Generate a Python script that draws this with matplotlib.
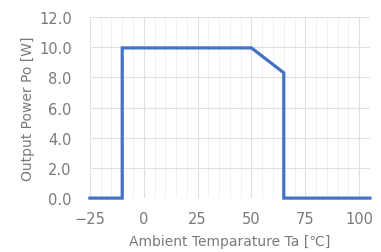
import matplotlib
matplotlib.use("Agg")
import matplotlib.pyplot as plt
from matplotlib.ticker import MultipleLocator

temp = [-25, -10, -10, 50, 65, 65, 105]
power = [0.0, 0.0, 9.95, 9.95, 8.3, 0.0, 0.0]

xticks = [-25, 0, 25, 50, 75, 100]
yticks = [0, 2, 4, 6, 8, 10, 12]

fig = plt.figure(figsize=(3.81, 2.53), dpi=100)
ax = fig.add_axes([0.236, 0.213, 0.735, 0.716])

ax.plot(temp, power, color="#4472C4", linewidth=2.3, solid_joinstyle="miter", zorder=3, clip_on=False)

ax.set_xlim(-25, 105)
ax.set_ylim(0, 12)
ax.set_xticks(xticks)
ax.set_yticks(yticks)
ax.set_yticklabels([f"{v:.1f}" for v in yticks])
ax.xaxis.set_minor_locator(MultipleLocator(5))

ax.grid(which="major", color="#e0e0e0", linewidth=0.8)
ax.grid(which="minor", axis="x", color="#f0f0f0", linewidth=0.7)
ax.set_axisbelow(True)
for s in ax.spines.values():
    s.set_visible(False)
tc = "#7a7a7a"
ax.tick_params(which="both", length=0, colors=tc, labelsize=10.5)
ax.tick_params(axis="x", pad=9)
ax.tick_params(axis="y", pad=13)

ax.set_xlabel("Ambient Temparature Ta [℃]", color=tc, fontsize=10, labelpad=6)
ax.set_ylabel("Output Power Po [W]", color=tc, fontsize=10, labelpad=3)

fig.savefig("out.png", dpi=100)
